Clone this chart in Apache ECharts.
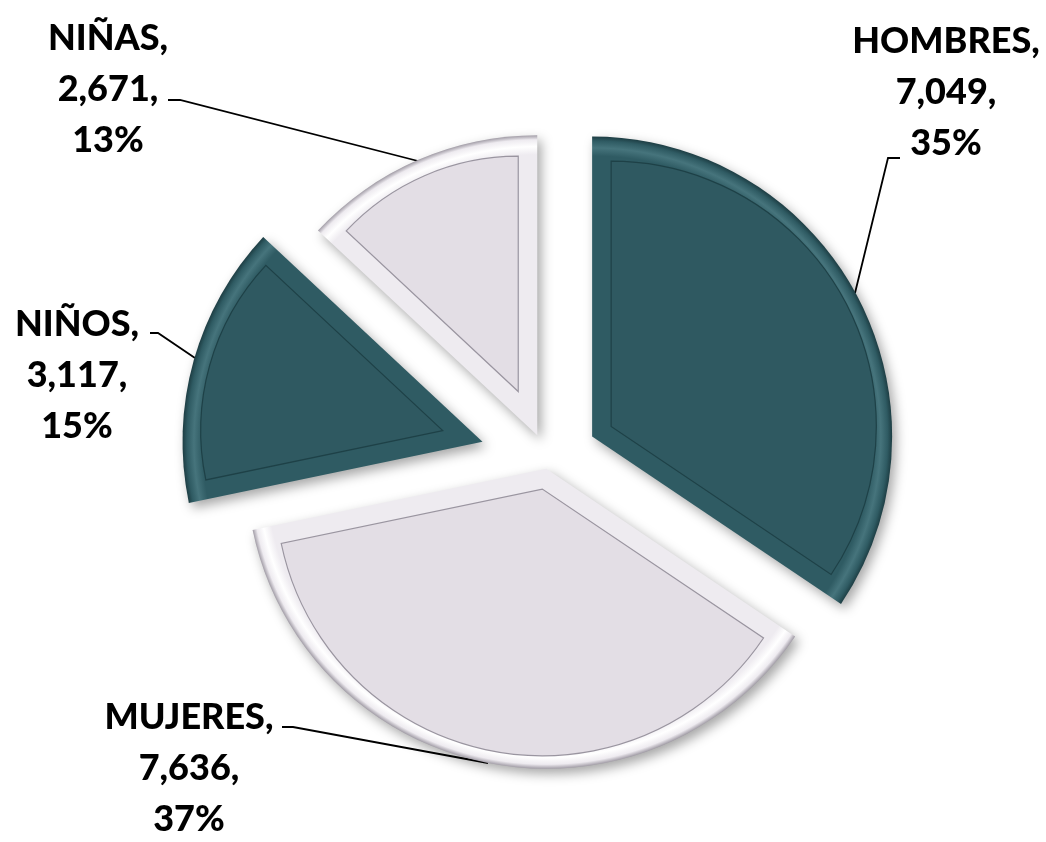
<!DOCTYPE html>
<html>
<head>
<meta charset="utf-8">
<script src="https://cdn.jsdelivr.net/npm/echarts@6/dist/echarts.min.js"></script>
<style>
    html, body { margin: 0; padding: 0; background: #fff; }
    #chartPie { width: 1046px; height: 842px; }
</style>
</head>
<body>
<div id="chartPie"></div>
<script>
    var categories = ['HOMBRES', 'MUJERES', 'NIÑOS', 'NIÑAS'];
    var values = [7049, 7636, 3117, 2671];

    // look of the exploded, bevelled pie
    var pieCenter = [548, 460];
    var explode = [50, 9, 68, 27];
    var outerR = 300;
    var bevel = 19;
    var tones = ['dark', 'light', 'dark', 'light'];
    var palette = {
        dark: { body: '#2f5961', base: '#2f5b63', hi: '#46747c', edge: '#1d3d43', line: '#1e4147' },
        light: { body: '#e3dee5', base: '#eeebf0', hi: '#ffffff', edge: '#a19ca6', line: '#9a95a0' }
    };
    var labelPos = [[946, 92], [189, 768], [77, 375], [108, 89]];
    var labelLinePts = [
        [[855, 293], [888, 158], [900, 158]],
        [[488, 763], [293, 727], [282, 727]],
        [[195, 358], [158, 333], [150, 333]],
        [[418, 161], [180, 100], [168, 100]]
    ];

    // where each slice sits (pie starts at 12 o'clock, clockwise)
    var total = values.reduce(function (a, b) { return a + b; }, 0);
    var acc = 0;
    var geo = values.map(function (v, i) {
        var a0 = acc / total * 2 * Math.PI;
        acc += v;
        var a1 = acc / total * 2 * Math.PI;
        var mid = (a0 + a1) / 2, half = (a1 - a0) / 2;
        var ux = Math.sin(mid), uy = -Math.cos(mid);
        var vx = pieCenter[0] + explode[i] * ux, vy = pieCenter[1] + explode[i] * uy;
        var dIn = bevel / Math.sin(half);
        var rIn = outerR - bevel - dIn * (1 + Math.cos(half)) / 2;
        return { outer: [vx, vy], inner: [vx + dIn * ux, vy + dIn * uy], rIn: rIn };
    });

    var hidden = { color: 'transparent', borderWidth: 0, shadowColor: 'transparent' };

    var series = [];
    values.forEach(function (v, i) {
        var g = geo[i], p = palette[tones[i]];
        // bevel band + shadow
        series.push({
            type: 'pie',
            center: g.outer,
            radius: [0, outerR],
            silent: true,
            animation: false,
            label: { show: false },
            labelLine: { show: false },
            data: categories.map(function (name, j) {
                return {
                    name: name,
                    value: values[j],
                    itemStyle: j !== i ? hidden : {
                        borderWidth: 0,
                        color: {
                            type: 'radial', global: true, x: g.outer[0], y: g.outer[1], r: outerR,
                            colorStops: [
                                { offset: 0, color: p.base },
                                { offset: 0.935, color: p.base },
                                { offset: 0.962, color: p.hi },
                                { offset: 0.985, color: p.base },
                                { offset: 1, color: p.edge }
                            ]
                        },
                        shadowBlur: 12,
                        shadowOffsetX: 4,
                        shadowOffsetY: 5,
                        shadowColor: 'rgba(0,0,0,0.35)'
                    }
                };
            })
        });
        // face of the slice + label
        series.push({
            type: 'pie',
            center: g.inner,
            radius: [0, g.rIn],
            silent: true,
            animation: false,
            avoidLabelOverlap: false,
            percentPrecision: 0,
            label: {
                position: 'outside',
                color: '#000',
                fontFamily: 'Lato',
                fontWeight: 900,
                fontSize: 36,
                lineHeight: 51,
                align: 'center',
                formatter: function (prm) {
                    return prm.name + ',\n' + prm.value.toLocaleString('en-US') + ',\n' + prm.percent + '%';
                }
            },
            labelLine: { lineStyle: { color: '#000', width: 1.8 } },
            labelLayout: function (prm) {
                if (prm.dataIndex !== i) return {};
                return {
                    x: labelPos[i][0],
                    y: labelPos[i][1],
                    align: 'center',
                    verticalAlign: 'middle',
                    labelLinePoints: labelLinePts[i]
                };
            },
            data: categories.map(function (name, j) {
                return {
                    name: name,
                    value: values[j],
                    label: { show: j === i },
                    labelLine: { show: j === i },
                    itemStyle: j !== i ? hidden : {
                        color: p.body,
                        borderColor: p.line,
                        borderWidth: 1.2,
                        borderJoin: 'miter'
                    }
                };
            })
        });
    });

    var chartPie = echarts.init(document.getElementById('chartPie'));
    chartPie.setOption({
        backgroundColor: '#fff',
        series: series
    });
</script>
</body>
</html>
